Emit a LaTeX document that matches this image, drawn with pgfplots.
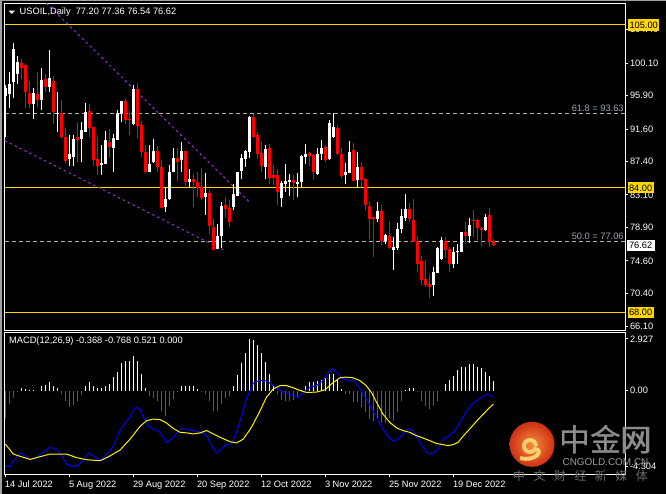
\documentclass[border=0pt]{standalone}
\usepackage{fontspec}
\setmainfont{Liberation Sans}
\newfontfamily\cjk{Noto Sans CJK SC}
\usepackage{pgfplots}
\usepackage{pgfplotstable}
\pgfplotsset{compat=1.18}

\definecolor{gold}{HTML}{FFD700}
\definecolor{candlered}{HTML}{FF0000}
\definecolor{histred}{HTML}{E02020}
\definecolor{fibgray}{HTML}{B4B4B4}
\definecolor{fibtext}{HTML}{9AA6B2}
\definecolor{purp}{HTML}{9A32CD}
\definecolor{border}{HTML}{A0A0A0}
\definecolor{wm1}{HTML}{8C8C8C}
\definecolor{wm2}{HTML}{9C9C9C}
\definecolor{wm3}{HTML}{6E6E6E}

% daily candles, bar index i (0 = 14 Jul 2022)
\pgfplotstableread{
i o h l c
0 95.8 97.3 90.5 96.9
1 96.1 98.9 94.3 97.4
2 97.6 102.7 95.6 101.9
3 98.7 101.0 97.4 100.2
4 100.1 100.6 97.9 99.5
5 99.8 100.0 94.3 96.4
6 96.2 97.8 94.3 94.8
7 94.8 96.9 92.9 96.2
8 96.1 98.9 94.4 95.3
9 95.3 99.5 94.0 97.9
10 98.0 98.7 96.4 97.0
11 97.0 101.8 96.4 98.2
12 97.8 98.4 92.2 93.8
13 93.6 96.4 91.2 93.7
14 93.6 95.3 90.3 90.6
15 90.6 91.7 87.2 87.5
16 87.7 90.8 86.8 88.4
17 88.0 90.8 86.8 90.3
18 90.6 92.5 87.3 90.2
19 90.3 92.5 87.3 91.5
20 91.2 95.0 91.2 93.8
21 93.9 94.8 90.6 91.7
22 91.8 91.8 86.8 87.6
23 87.7 90.6 85.7 86.8
24 86.9 89.5 85.7 87.2
25 87.1 91.3 87.1 90.2
26 89.9 91.6 87.9 89.3
27 89.1 90.9 86.0 90.4
28 90.2 94.0 90.2 93.7
29 93.5 95.2 92.5 95.2
30 95.2 95.6 92.2 92.8
31 92.9 93.9 90.8 92.8
32 92.2 97.3 92.1 96.7
33 96.7 97.5 90.3 92.0
34 92.1 92.6 88.0 88.6
35 88.6 89.5 85.8 86.0
36 86.0 89.5 86.0 87.1
37 87.3 90.3 87.2 88.8
38 88.8 89.4 86.0 86.7
39 86.7 87.6 81.4 81.4
40 81.5 84.1 80.9 82.6
41 82.6 87.0 82.4 86.0
42 86.0 89.1 86.0 87.9
43 87.9 89.1 84.9 87.3
44 87.6 89.9 86.0 88.8
45 88.8 88.8 84.2 84.8
46 84.8 86.5 84.0 85.2
47 85.2 85.8 81.5 84.8
48 84.8 86.0 82.8 84.0
49 84.1 86.6 82.4 82.7
50 82.8 85.9 80.5 83.3
51 83.3 83.7 78.0 79.1
52 79.0 80.1 76.0 76.0
53 76.1 79.3 76.1 77.8
54 77.8 82.2 76.3 81.7
55 81.8 82.8 80.1 81.3
56 81.4 82.4 79.0 79.6
57 81.5 84.5 81.2 83.2
58 83.0 86.1 83.0 86.1
59 86.2 88.4 85.1 87.9
60 87.7 88.9 86.7 88.8
61 88.6 93.3 87.9 93.1
62 93.1 93.5 90.4 90.6
63 90.8 91.2 87.7 88.4
64 88.5 89.9 86.0 86.8
65 86.7 89.5 85.1 89.0
66 89.1 89.7 84.5 85.3
67 85.7 87.0 84.4 85.3
68 85.7 86.4 81.8 83.5
69 82.7 84.9 81.5 84.6
70 84.5 87.1 83.5 84.9
71 84.8 85.8 83.0 85.0
72 85.0 85.7 82.4 84.6
73 84.5 85.9 82.8 84.8
74 84.8 88.2 84.0 88.1
75 88.0 89.7 87.1 88.4
76 88.5 88.6 86.8 88.1
77 88.2 88.4 85.0 86.1
78 85.8 89.2 85.7 88.4
79 88.4 90.2 87.6 89.2
80 89.3 89.5 87.4 87.6
81 87.7 92.8 87.6 92.4
82 90.5 93.7 90.4 91.8
83 91.7 92.1 88.2 88.4
84 88.4 89.2 85.3 85.5
85 85.6 87.2 84.5 86.1
86 85.9 90.1 85.9 88.6
87 88.9 89.8 84.9 84.9
88 85.0 88.6 84.0 86.7
89 86.7 87.3 84.1 85.0
90 85.1 85.3 81.2 81.8
91 81.7 82.3 77.4 80.0
92 80.2 80.2 75.1 80.0
93 80.0 82.2 79.6 81.0
94 81.0 81.8 76.6 77.2
95 77.2 78.0 76.8 77.9
96 77.8 79.7 76.1 76.3
97 76.0 77.7 73.4 76.4
98 76.3 79.5 76.0 78.7
99 78.7 81.3 78.2 80.4
100 80.1 83.2 79.7 81.3
101 81.3 82.1 79.6 80.0
102 79.9 82.6 77.0 77.0
103 77.2 77.8 73.2 74.2
104 74.6 75.2 71.5 72.1
105 72.3 74.7 71.2 71.5
106 71.6 72.9 69.8 71.2
107 71.5 73.8 70.1 73.2
108 73.0 76.4 73.0 76.3
109 74.8 77.7 74.7 77.3
110 77.2 77.7 75.0 76.0
111 76.1 76.4 73.2 74.2
112 74.2 76.4 73.7 75.7
113 75.7 76.8 74.2 75.9
114 75.7 78.3 75.7 78.3
115 78.3 79.6 76.8 77.8
116 77.8 80.1 76.9 79.2
117 79.9 81.2 77.7 79.8
118 79.9 80.0 77.3 78.8
119 78.8 78.9 76.5 78.6
120 78.6 80.6 78.4 80.2
121 80.5 81.4 76.4 77.0
122 77.20 77.36 76.54 76.62
}\candles

% MACD histogram
\pgfplotstableread{
i v
0 -1.57
1 -0.76
2 -0.44
3 -0.10
4 0.13
5 0.10
6 0.02
7 0.04
8 0.00
9 0.25
10 0.32
11 0.51
12 0.28
13 0.13
14 -0.19
15 -0.62
16 -0.95
17 -0.81
18 -0.57
19 -0.28
20 0.28
21 0.47
22 0.28
23 0.15
24 0.13
25 0.28
26 0.38
27 0.76
28 1.04
29 1.57
30 1.65
31 1.65
32 1.95
33 1.65
34 0.95
35 0.13
36 -0.32
37 -0.44
38 -0.62
39 -1.14
40 -1.46
41 -0.89
42 -0.47
43 -0.09
44 0.28
45 0.28
46 0.28
47 0.28
48 0.10
49 -0.06
50 -0.19
51 -0.57
52 -1.14
53 -1.14
54 -0.76
55 -0.44
56 -0.32
57 0.25
58 0.89
59 1.57
60 2.14
61 2.927
62 2.85
63 2.56
64 2.12
65 1.60
66 0.95
67 0.28
68 -0.19
69 -0.53
70 -0.61
71 -0.57
72 -0.53
73 -0.34
74 0.05
75 0.23
76 0.47
77 0.47
78 0.53
79 0.60
80 0.72
81 0.95
82 0.95
83 0.60
84 0.08
85 -0.19
86 -0.19
87 -0.66
88 -0.66
89 -0.95
90 -1.23
91 -1.60
92 -1.70
93 -1.55
94 -1.85
95 -1.85
96 -1.55
97 -1.70
98 -1.23
99 -0.60
100 0.02
101 0.15
102 0.15
103 -0.10
104 -0.57
105 -0.90
106 -1.04
107 -0.85
108 -0.60
109 0.00
110 0.38
111 0.57
112 0.85
113 1.14
114 1.33
115 1.36
116 1.48
117 1.52
118 1.36
119 1.29
120 1.04
121 0.80
122 0.521
}\hist

% MACD main line
\pgfplotstableread{
i v
0 -4.30
1.2 -4.30
2 -3.98
3.7 -3.54
4.9 -3.70
6.2 -3.90
7.4 -3.87
8.7 -3.60
11.2 -3.22
12.8 -3.35
14.1 -3.70
15.3 -4.17
16.6 -4.30
18.2 -4.25
19.5 -3.98
20.8 -3.54
22 -3.70
23.7 -3.98
24.9 -3.70
26.2 -3.41
27.4 -2.94
28.7 -2.27
29.9 -1.84
31.2 -1.52
32 -1.08
32.8 -0.95
33.7 -1.08
34.5 -1.52
35.8 -2.03
37 -2.18
38.2 -2.27
39.5 -2.65
40.3 -2.94
41.6 -2.75
42.8 -2.42
44.1 -2.15
45.3 -2.20
47 -2.27
48.7 -2.37
50.3 -2.56
51.6 -3.13
52.8 -3.54
54.1 -3.30
55.3 -3.07
56.6 -3.00
57.8 -2.37
59.1 -1.42
60.3 -0.47
62 0.42
63.7 0.57
65.3 0.55
67 0.28
68.7 0.00
70.3 -0.15
72 -0.28
73.2 -0.38
74.5 -0.10
76.2 0.19
77.8 0.28
79.5 0.57
80.8 1.04
81.9 1.23
83.2 0.95
84.4 0.66
85.7 0.57
86.9 0.62
88.2 0.28
89.4 -0.19
90.7 -0.66
91.9 -1.14
93.2 -1.70
94.4 -2.18
95.7 -2.60
96.9 -2.88
98.2 -2.75
99.4 -2.46
100.7 -2.18
101.9 -2.27
103.2 -2.75
104.4 -3.22
105.7 -3.56
106.9 -3.60
108.2 -3.30
109.4 -2.75
110.7 -2.60
111.9 -2.37
113.2 -1.99
114.4 -1.52
115.7 -1.04
116.9 -0.72
118.2 -0.53
119.4 -0.34
120.2 -0.23
121.1 -0.28
122 -0.368
}\macdline

% signal line
\pgfplotstableread{
i v
0 -3.03
2 -3.60
3.7 -3.73
6.2 -3.90
8.7 -3.75
11.2 -3.60
15.3 -3.60
17.8 -3.80
20.3 -3.92
23.7 -3.98
26.2 -3.70
28.7 -3.37
31.2 -2.75
33.7 -2.03
35.3 -1.71
37 -1.62
38.7 -1.65
40.3 -1.84
42 -2.15
43.7 -2.37
45.3 -2.40
47 -2.46
48.7 -2.40
50.3 -2.27
52 -2.46
53.7 -2.65
56.2 -2.90
57.8 -2.97
59.5 -2.75
61 -2.27
62 -1.89
63.7 -1.14
65.3 -0.38
67 0.09
68.7 0.28
70.3 0.28
72 0.15
73.7 0.00
75.3 -0.11
77.8 -0.09
79.9 0.04
81.8 0.42
83.6 0.72
85.2 0.76
86.9 0.72
88.6 0.57
90.2 0.28
91.5 -0.10
92.8 -0.66
94.4 -1.33
96.1 -1.80
97.8 -2.12
99.4 -2.27
101.1 -2.37
102.8 -2.56
104.4 -2.69
106.1 -2.84
107.8 -3.00
109.4 -3.07
110.7 -3.12
111.9 -3.07
113.2 -2.94
114.4 -2.60
116.1 -2.18
117.8 -1.74
119.4 -1.36
120.7 -1.05
122 -0.768
}\signalline

\begin{document}
\begin{tikzpicture}
\fill[black] (0,0) rectangle (666bp,-494bp);
\fill[border] (0,0) rectangle (2bp,-494bp);
\fill[border] (0,0) rectangle (666bp,-1bp);

% price panel
\begin{axis}[
    at={(4.7bp,-3.3bp)}, anchor=north west, scale only axis,
    width=620.6bp, height=327.5bp,
    xmin=-0.15, xmax=155, ymin=65.578, ymax=107.797,
    clip=false,
    axis line style={white, line width=1bp},
    xtick=\empty,
    ytick={104.4,100.1,95.9,91.6,87.4,83.1,78.9,74.6,70.4,66.1},
    yticklabels={104.40,100.10,95.90,91.60,87.40,83.10,78.90,74.60,70.40,66.10},
    ytick pos=right, yticklabel pos=right,
    tick align=outside, major tick length=3bp,
    ytick style={white, line width=0.8bp},
    yticklabel style={font=\fontsize{9.3}{11}\selectfont, text=white, inner xsep=1.5bp},
]
% levels
\addplot[gold, line width=1bp] coordinates {(-0.15,105) (155,105)};
\addplot[gold, line width=1bp] coordinates {(-0.15,84) (155,84)};
\addplot[gold, line width=1bp] coordinates {(-0.15,68) (155,68)};
\addplot[fibgray, line width=1bp, dash pattern=on 4bp off 3bp] coordinates {(-0.15,93.63) (155,93.63)};
\addplot[fibgray, line width=1bp, dash pattern=on 4bp off 3bp] coordinates {(-0.15,77.06) (155,77.06)};
% channel
\addplot[purp, line width=1bp, dash pattern=on 2.5bp off 3bp] coordinates {(10.3,107.79) (61.2,82.09)};
\addplot[purp, line width=1bp, dash pattern=on 2.5bp off 3bp] coordinates {(-0.15,90.1) (54.5,76.0)};
% up candles
\addplot[white, line width=1bp, no markers,
    quiver={u=0, v=\thisrow{h}-\thisrow{l}},
    x filter/.expression={\thisrow{c}>=\thisrow{o} ? x : nan}] table[x=i, y=l] {\candles};
\addplot[white, line width=3bp, no markers,
    quiver={u=0, v=\thisrow{c}-\thisrow{o}},
    x filter/.expression={\thisrow{c}>=\thisrow{o} ? x : nan}] table[x=i, y=o] {\candles};
% down candles
\addplot[candlered, line width=1bp, no markers,
    quiver={u=0, v=\thisrow{h}-\thisrow{l}},
    x filter/.expression={\thisrow{c}<\thisrow{o} ? x : nan}] table[x=i, y=l] {\candles};
\addplot[candlered, line width=3bp, no markers,
    quiver={u=0, v=\thisrow{c}-\thisrow{o}},
    x filter/.expression={\thisrow{c}<\thisrow{o} ? x : nan}] table[x=i, y=o] {\candles};
% labels
\node[anchor=base east, text=fibtext, inner sep=0pt, font=\fontsize{9.3}{11}\selectfont]
    at (axis cs:155,93.63) [xshift=-1.5bp, yshift=2bp] {61.8 = 93.63};
\node[anchor=base east, text=fibtext, inner sep=0pt, font=\fontsize{9.3}{11}\selectfont]
    at (axis cs:155,77.06) [xshift=-1.5bp, yshift=2bp] {50.0 = 77.06};
\node[anchor=west, fill=gold, text=black, inner xsep=1.5bp, inner ysep=0pt, minimum height=11.5bp, font=\fontsize{9.3}{11}\selectfont]
    at (axis cs:155,105) [xshift=2.5bp] {105.00};
\node[anchor=west, fill=gold, text=black, inner xsep=1.5bp, inner ysep=0pt, minimum height=11bp, font=\fontsize{9.3}{11}\selectfont]
    at (axis cs:155,84) [xshift=2bp] {84.00};
\node[anchor=west, fill=gold, text=black, inner xsep=1.5bp, inner ysep=0pt, minimum height=11bp, font=\fontsize{9.3}{11}\selectfont]
    at (axis cs:155,68) [xshift=2bp] {68.00};
\node[anchor=west, fill=white, text=black, inner xsep=2.5bp, inner ysep=0pt, minimum height=11bp, font=\fontsize{9.3}{11}\selectfont]
    at (axis cs:155,76.62) [xshift=1bp] {76.62};
\end{axis}

% MACD panel
\begin{axis}[
    at={(4.7bp,-332.7bp)}, anchor=north west, scale only axis,
    width=620.6bp, height=141.6bp,
    xmin=-0.15, xmax=155, ymin=-4.748, ymax=3.275,
    axis line style={white, line width=1bp},
    xtick={0,16,32,48,64,80,96,112},
    xticklabels={14 Jul 2022,5 Aug 2022,29 Aug 2022,20 Sep 2022,12 Oct 2022,3 Nov 2022,25 Nov 2022,19 Dec 2022},
    xtick pos=bottom,
    xticklabel style={anchor=north west, font=\fontsize{9.3}{11}\selectfont, text=white, inner xsep=0pt, xshift=-0.5bp},
    ytick={-4.304,0,2.927},
    yticklabels={-4.304,0.00,2.927},
    ytick pos=right, yticklabel pos=right,
    yticklabel style={font=\fontsize{9.3}{11}\selectfont, text=white, inner xsep=1.5bp},
    tick align=outside, major tick length=3bp,
    tick style={white, line width=0.8bp},
]
\addplot[ycomb, white, line width=1bp, no markers, y filter/.expression={y<0 ? nan : y}] table[x=i, y=v] {\hist};
\addplot[ycomb, histred, line width=1bp, no markers, y filter/.expression={y<0 ? y : nan}] table[x=i, y=v] {\hist};
\addplot[blue, line width=1bp, no markers] table[x=i, y=v] {\macdline};
\addplot[yellow, line width=1bp, no markers] table[x=i, y=v] {\signalline};
\end{axis}

% title texts
\fill[white] (8.5bp,-10.5bp) -- (15bp,-10.5bp) -- (11.75bp,-13.8bp) -- cycle;
\node[anchor=west, inner sep=0pt, text=white, font=\fontsize{9.3}{11}\selectfont] at (19.5bp,-12bp) {USOIL,Daily\ \ 77.20 77.36 76.54 76.62};
\node[anchor=west, inner sep=0pt, text=white, font=\fontsize{9.3}{11}\selectfont] at (9bp,-341.5bp) {MACD(12,26,9) -0.368 -0.768 0.521 0.000};

% watermark
\shade[inner color={rgb,255:red,246;green,140;blue,60}, outer color={rgb,255:red,206;green,48;blue,20}] (532bp,-444.3bp) circle (22.5bp);
\draw[line width=4bp, color={rgb,255:red,250;green,205;blue,110}] (536bp,-446bp) arc (0:330:6bp) .. controls (544bp,-450bp) and (536bp,-462bp) .. (520bp,-458bp);
\node[text=wm1, inner sep=0pt, font=\cjk\fontsize{31}{31}\selectfont] at (605.5bp,-440bp) {中金网};
\node[text=wm1, inner sep=0pt, font=\cjk\fontsize{31}{31}\selectfont] at (606.1bp,-440bp) {中金网};
\node[text=wm2, inner sep=0pt, font=\fontsize{10}{10}\selectfont] at (605.5bp,-462.5bp) {CNGOLD.COM.CN};
\node[text=wm3, inner sep=0pt, font=\cjk\fontsize{12}{12}\selectfont] at (580.5bp,-476bp) {中\hspace{8.5bp}文\hspace{8.5bp}财\hspace{8.5bp}经\hspace{8.5bp}新\hspace{8.5bp}媒\hspace{8.5bp}体};

\pgfresetboundingbox
\useasboundingbox (0,0) rectangle (666bp,-494bp);
\end{tikzpicture}
\end{document}
